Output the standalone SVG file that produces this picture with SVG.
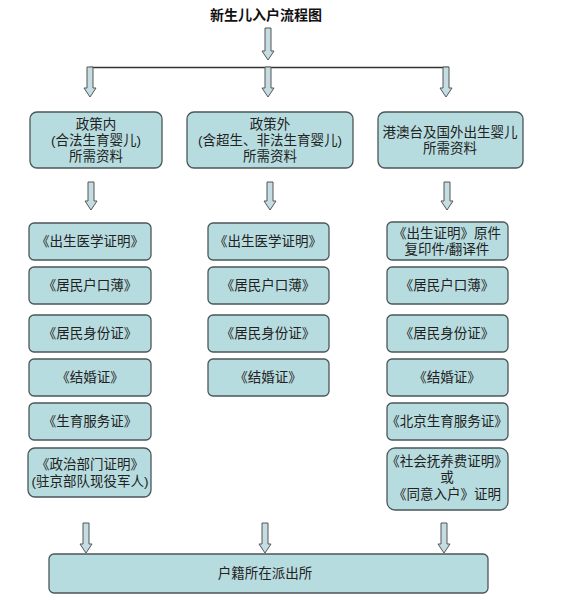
<svg xmlns="http://www.w3.org/2000/svg" width="561" height="600" viewBox="0 0 561 600">
<style>
.box{fill:#b7dcdf;stroke:#4a5658;stroke-width:1.3}
.t{font-family:"Liberation Sans","Noto Sans CJK SC",sans-serif;font-size:13.5px;fill:#222;text-anchor:middle}
.title{font-family:"Liberation Sans","Noto Sans CJK SC",sans-serif;font-size:14px;font-weight:bold;fill:#111;text-anchor:middle}
.arr{fill:#c4dde3;stroke:#555;stroke-width:1}
.ln{stroke:#333;stroke-width:1.3;fill:none}
</style>
<rect width="561" height="600" fill="#fff"/>
<text class="title" x="266" y="20">新生儿入户流程图</text>
<g id="connectors">
<polygon class="arr" points="265,28 271,28 271,51 274,51 268,60 262,51 265,51"/>
<line class="ln" x1="90" y1="67.5" x2="449" y2="67.5"/>
<polygon class="arr" points="87,67 93,67 93,88 96,88 90,97 84,88 87,88"/>
<polygon class="arr" points="265,67 271,67 271,88 274,88 268,97 262,88 265,88"/>
<polygon class="arr" points="443,67 449,67 449,88 452,88 446,97 440,88 443,88"/>
<polygon class="arr" points="88,182 94,182 94,201 97,201 91,210 85,201 88,201"/>
<polygon class="arr" points="267,182 273,182 273,201 276,201 270,210 264,201 267,201"/>
<polygon class="arr" points="444,182 450,182 450,201 453,201 447,210 441,201 444,201"/>
<polygon class="arr" points="83,523 89,523 89,544 92,544 86,553 80,544 83,544"/>
<polygon class="arr" points="262,523 268,523 268,544 271,544 265,553 259,544 262,544"/>
<polygon class="arr" points="441,523 447,523 447,544 450,544 444,553 438,544 441,544"/>
</g>
<g id="n-left-head"><rect class="box" x="30" y="112" width="132" height="56" rx="7"/>
<text class="t" x="96" y="129">政策内</text><text class="t" x="96" y="145">(合法生育婴儿)</text><text class="t" x="96" y="161">所需资料</text></g>
<g id="n-mid-head"><rect class="box" x="187" y="112" width="166" height="56" rx="7"/>
<text class="t" x="270" y="129">政策外</text><text class="t" x="270" y="145">(含超生、非法生育婴儿)</text><text class="t" x="270" y="161">所需资料</text></g>
<g id="n-right-head"><rect class="box" x="378" y="112" width="145" height="56" rx="7"/>
<text class="t" x="450" y="137">港澳台及国外出生婴儿</text><text class="t" x="450" y="153">所需资料</text></g>

<g id="n-l1"><rect class="box" x="29" y="223" width="122" height="37" rx="5"/><text class="t" x="90" y="246">《出生医学证明》</text></g>
<g id="n-l2"><rect class="box" x="29" y="267" width="122" height="37" rx="5"/><text class="t" x="90" y="290">《居民户口薄》</text></g>
<g id="n-l3"><rect class="box" x="29" y="315" width="122" height="37" rx="5"/><text class="t" x="90" y="338">《居民身份证》</text></g>
<g id="n-l4"><rect class="box" x="29" y="359" width="122" height="37" rx="5"/><text class="t" x="90" y="382">《结婚证》</text></g>
<g id="n-l5"><rect class="box" x="29" y="403" width="122" height="37" rx="5"/><text class="t" x="90" y="426">《生育服务证》</text></g>
<g id="n-l6"><rect class="box" x="28" y="448" width="123" height="49" rx="7"/><text class="t" x="90" y="469">《政治部门证明》</text><text class="t" x="90" y="486">(驻京部队现役军人)</text></g>

<g id="n-m1"><rect class="box" x="208" y="223" width="121" height="37" rx="5"/><text class="t" x="268" y="246">《出生医学证明》</text></g>
<g id="n-m2"><rect class="box" x="208" y="267" width="121" height="37" rx="5"/><text class="t" x="268" y="290">《居民户口薄》</text></g>
<g id="n-m3"><rect class="box" x="208" y="315" width="121" height="37" rx="5"/><text class="t" x="268" y="338">《居民身份证》</text></g>
<g id="n-m4"><rect class="box" x="208" y="359" width="121" height="37" rx="5"/><text class="t" x="268" y="382">《结婚证》</text></g>

<g id="n-r1"><rect class="box" x="387" y="222" width="121" height="38" rx="5"/><text class="t" x="447" y="238">《出生证明》原件</text><text class="t" x="447" y="254">复印件/翻译件</text></g>
<g id="n-r2"><rect class="box" x="387" y="267" width="121" height="37" rx="5"/><text class="t" x="447" y="290">《居民户口薄》</text></g>
<g id="n-r3"><rect class="box" x="387" y="315" width="121" height="37" rx="5"/><text class="t" x="447" y="338">《居民身份证》</text></g>
<g id="n-r4"><rect class="box" x="387" y="359" width="121" height="37" rx="5"/><text class="t" x="447" y="382">《结婚证》</text></g>
<g id="n-r5"><rect class="box" x="387" y="403" width="121" height="37" rx="5"/><text class="t" x="447" y="426">《北京生育服务证》</text></g>
<g id="n-r6"><rect class="box" x="387" y="448" width="121" height="62" rx="8"/><text class="t" x="447" y="466">《社会抚养费证明》</text><text class="t" x="447" y="482">或</text><text class="t" x="447" y="499">《同意入户》证明</text></g>

<g id="n-bottom"><rect class="box" x="49" y="554" width="439" height="39" rx="5"/><text class="t" x="265" y="578">户籍所在派出所</text></g>
</svg>
